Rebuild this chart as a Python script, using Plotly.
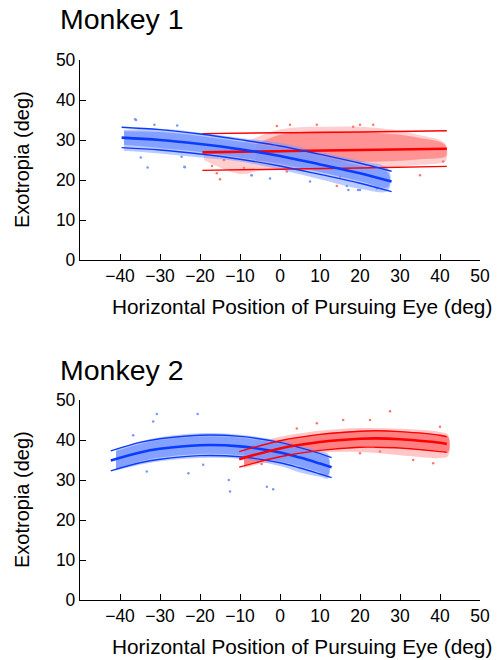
import plotly.graph_objects as go

# ---------------- data ----------------
x_ticks = [-40, -30, -20, -10, 0, 10, 20, 30, 40, 50]
y_ticks = [0, 10, 20, 30, 40, 50]

# Monkey 1 — blue fit and band
m1_blue_fit_x = [-39.6, -30, -20, -10, 0, 10, 20, 27.9]
m1_blue_fit_mean = [30.6, 30.0, 29.0, 27.7, 26.0, 23.9, 21.7, 19.6]
m1_blue_fit_up = [33.2, 32.6, 31.5, 30.1, 28.5, 26.4, 24.2, 22.2]
m1_blue_fit_lo = [28.1, 27.5, 26.5, 25.2, 23.5, 21.4, 19.2, 17.1]
# Monkey 1 — red fit and band
m1_red_fit_x = [-19.4, 0, 20, 41.7]
m1_red_fit_mean = [26.9, 27.2, 27.5, 27.8]
m1_red_fit_up = [31.6, 31.8, 32.0, 32.3]
m1_red_fit_lo = [22.4, 22.7, 23.0, 23.4]

# Monkey 1 — point clouds (outer envelope and dense core)
m1_blue_cloud_x = [-39, -30, -20, -10, 0, 10, 20, 27]
m1_blue_outer_up = [32.5, 32.8, 31.8, 30.5, 29.3, 27.0, 24.8, 22.8]
m1_blue_outer_lo = [27.3, 26.6, 25.6, 24.6, 22.6, 20.2, 17.8, 17.3]
m1_blue_core_up = [32.2, 32.0, 31.0, 29.6, 28.0, 26.0, 23.6, 21.8]
m1_blue_core_lo = [28.8, 28.0, 27.0, 25.6, 24.0, 22.0, 19.7, 18.2]

m1_red_outer_x = [-19, -10, -5, 0, 5, 10, 20, 30, 35, 40, 41.5]
m1_red_outer_up = [27.5, 29.0, 31.0, 32.6, 33.2, 33.3, 33.3, 32.3, 31.2, 30.0, 28.8]
m1_red_outer_lo = [25.0, 21.5, 22.3, 22.5, 22.8, 23.0, 23.2, 23.4, 23.8, 24.2, 24.8]
m1_red_core_x = [-6, 0, 5, 10, 20, 30, 35, 40, 41.5]
m1_red_core_up = [29.0, 31.3, 32.0, 32.2, 32.0, 31.3, 30.5, 29.5, 28.5]
m1_red_core_lo = [24.8, 24.5, 24.5, 24.5, 24.5, 24.8, 25.2, 25.5, 26.0]

m1_blue_pts_x = [-36.2, -31.4, -25.7, -33.1, -34.8, -24.6, -23.8, -36.0, -23.9, -7.1, -2.5, 7.5, 17.1, 19.5, 20.0, 16.7, 24.2]
m1_blue_pts_y = [35.2, 33.8, 33.6, 23.1, 25.6, 25.8, 23.2, 35.0, 23.3, 21.2, 20.4, 19.6, 17.5, 17.5, 17.5, 18.5, 17.9]
m1_red_pts_x = [-15.0, -7.1, 9.2, 20.0, -0.8, 15.0, 1.7, -15.8, 18.3, 23.3, 35.0, 40.8, 14.2, 2.5, -17.0, -12.0, -14.0, -9.0]
m1_red_pts_y = [20.2, 21.2, 33.8, 33.8, 33.5, 20.8, 22.1, 21.7, 33.3, 33.8, 21.2, 24.6, 18.5, 33.8, 23.5, 27.8, 25.0, 23.0]

# Monkey 2 — blue fit and band
m2_blue_fit_x = [-42.3, -35, -30, -20, -10, 0, 5, 10, 12.9]
m2_blue_fit_mean = [34.9, 36.9, 37.8, 38.7, 38.4, 36.9, 35.6, 34.1, 33.2]
m2_blue_fit_up = [37.3, 39.4, 40.3, 41.2, 40.9, 39.4, 38.1, 36.6, 35.6]
m2_blue_fit_lo = [32.3, 34.3, 35.2, 36.1, 35.8, 34.3, 33.0, 31.5, 30.6]
# Monkey 2 — red fit and band
m2_red_fit_x = [-10.2, 0, 10, 20, 24, 30, 40, 41.7]
m2_red_fit_mean = [35.2, 37.9, 39.5, 40.3, 40.4, 40.2, 39.3, 39.0]
m2_red_fit_up = [37.1, 39.8, 41.4, 42.2, 42.3, 42.1, 41.2, 40.8]
m2_red_fit_lo = [33.2, 35.8, 37.4, 38.2, 38.2, 38.0, 37.1, 36.9]

m2_blue_cloud_x = [-41, -35, -30, -20, -10, 0, 5, 10, 12]
m2_blue_outer_up = [37.6, 39.6, 40.7, 41.7, 41.3, 39.8, 38.6, 37.2, 36.5]
m2_blue_outer_lo = [32.4, 33.8, 34.7, 35.5, 35.3, 33.5, 31.9, 30.8, 30.4]
m2_blue_core_up = [37.2, 39.0, 40.0, 40.9, 40.6, 39.0, 37.8, 36.3, 35.6]
m2_blue_core_lo = [32.8, 34.6, 35.6, 36.5, 36.2, 34.6, 33.4, 31.9, 31.2]

m2_red_cloud_x = [-9, -5, 0, 10, 20, 30, 40, 42]
m2_red_outer_up = [38.2, 39.5, 40.8, 42.3, 43.0, 42.8, 42.0, 41.3]
m2_red_outer_lo = [33.0, 34.0, 34.8, 36.8, 37.0, 36.2, 35.5, 36.0]
m2_red_core_up = [37.6, 38.7, 39.9, 41.5, 42.3, 42.2, 41.3, 40.9]
m2_red_core_lo = [33.6, 34.7, 35.9, 37.5, 38.3, 38.2, 37.3, 36.9]

m2_blue_pts_x = [-30.8, -20.6, -31.7, -36.7, -33.3, -22.9, -12.8, -1.7, -19.2, -12.5, -3.3]
m2_blue_pts_y = [46.5, 46.5, 44.6, 41.2, 32.1, 31.7, 30.0, 27.7, 33.8, 27.1, 28.3]
m2_red_pts_x = [27.5, 22.5, 9.2, 40.0, 20.0, 38.3, 33.3, 25.0, 15.8, 4.2, -4.6]
m2_red_pts_y = [47.2, 45.0, 44.2, 43.3, 36.7, 34.2, 35.0, 37.1, 45.0, 42.9, 34.0]

# ---------------- styles ----------------
BLUE_PT = "rgb(120,150,255)"
RED_PT = "rgb(255,115,115)"
BLUE_LN = "rgb(10,60,255)"
RED_LN = "rgb(255,0,0)"
FONT = "Liberation Sans, Arial, sans-serif"

fig = go.Figure()


def band(xs, up, lo, color, opacity, xa, ya):
    fig.add_trace(go.Scatter(
        x=list(xs) + list(xs)[::-1], y=list(up) + list(lo)[::-1],
        fill="toself", fillcolor=color, line=dict(width=0, shape="spline"),
        mode="lines", opacity=opacity, hoverinfo="skip", xaxis=xa, yaxis=ya))


def pts(xs, ys, color, xa, ya):
    fig.add_trace(go.Scatter(x=xs, y=ys, mode="markers",
                             marker=dict(size=2.5, color=color, line=dict(width=0)),
                             xaxis=xa, yaxis=ya, hoverinfo="skip"))


def fit(xs, ys, color, width, xa, ya):
    fig.add_trace(go.Scatter(x=xs, y=ys, mode="lines",
                             line=dict(color=color, width=width, shape="spline"),
                             xaxis=xa, yaxis=ya, hoverinfo="skip"))


# Panel 1 (Monkey 1)
band(m1_red_outer_x, m1_red_outer_up, m1_red_outer_lo, RED_PT, 0.35, "x", "y")
band(m1_red_core_x, m1_red_core_up, m1_red_core_lo, RED_PT, 0.65, "x", "y")
pts(m1_red_pts_x, m1_red_pts_y, RED_PT, "x", "y")
band(m1_blue_cloud_x, m1_blue_outer_up, m1_blue_outer_lo, BLUE_PT, 0.5, "x", "y")
band(m1_blue_cloud_x, m1_blue_core_up, m1_blue_core_lo, BLUE_PT, 0.8, "x", "y")
pts(m1_blue_pts_x, m1_blue_pts_y, BLUE_PT, "x", "y")
for ys, w in [(m1_red_fit_up, 1.4), (m1_red_fit_lo, 1.4), (m1_red_fit_mean, 2.6)]:
    fit(m1_red_fit_x, ys, RED_LN, w, "x", "y")
for ys, w in [(m1_blue_fit_up, 1.4), (m1_blue_fit_lo, 1.4), (m1_blue_fit_mean, 2.6)]:
    fit(m1_blue_fit_x, ys, BLUE_LN, w, "x", "y")

# Panel 2 (Monkey 2)
band(m2_red_cloud_x, m2_red_outer_up, m2_red_outer_lo, RED_PT, 0.4, "x2", "y2")
band(m2_red_cloud_x, m2_red_core_up, m2_red_core_lo, RED_PT, 0.85, "x2", "y2")
pts(m2_red_pts_x, m2_red_pts_y, RED_PT, "x2", "y2")
band(m2_blue_cloud_x, m2_blue_outer_up, m2_blue_outer_lo, BLUE_PT, 0.5, "x2", "y2")
band(m2_blue_cloud_x, m2_blue_core_up, m2_blue_core_lo, BLUE_PT, 0.8, "x2", "y2")
pts(m2_blue_pts_x, m2_blue_pts_y, BLUE_PT, "x2", "y2")
for ys, w in [(m2_blue_fit_up, 1.4), (m2_blue_fit_lo, 1.4), (m2_blue_fit_mean, 2.6)]:
    fit(m2_blue_fit_x, ys, BLUE_LN, w, "x2", "y2")
for ys, w in [(m2_red_fit_up, 1.4), (m2_red_fit_lo, 1.4), (m2_red_fit_mean, 2.6)]:
    fit(m2_red_fit_x, ys, RED_LN, w, "x2", "y2")

W, H = 498, 660
xdom = [80 / W, 480 / W]
axis_common = dict(showline=True, linecolor="black", linewidth=1.3, ticks="inside",
                   ticklen=6, tickwidth=1.2, tickcolor="black", showgrid=False,
                   zeroline=False, tickfont=dict(family=FONT, size=17.5, color="black"))

fig.update_layout(
    width=W, height=H, margin=dict(l=0, r=0, t=0, b=0, autoexpand=False),
    plot_bgcolor="white", paper_bgcolor="white", showlegend=False,
    font=dict(family=FONT, color="black"),
    xaxis=dict(domain=xdom, range=[-50, 50], tickvals=x_ticks, anchor="y", **axis_common),
    yaxis=dict(domain=[1 - 260 / H, 1 - 60 / H], range=[0, 50], tickvals=y_ticks,
               anchor="x", **axis_common),
    xaxis2=dict(domain=xdom, range=[-50, 50], tickvals=x_ticks, anchor="y2", **axis_common),
    yaxis2=dict(domain=[1 - 600 / H, 1 - 400 / H], range=[0, 50], tickvals=y_ticks,
                anchor="x2", **axis_common),
)

ann = []
for title, ty in [("Monkey 1", 19), ("Monkey 2", 370)]:
    ann.append(dict(text=title, x=58 / W, y=1 - ty / H, xref="paper", yref="paper",
                    xanchor="left", yanchor="middle", showarrow=False,
                    font=dict(family=FONT, size=28.5, color="black")))
for ty in [306, 646]:
    ann.append(dict(text="Horizontal Position of Pursuing Eye (deg)", x=302 / W, y=1 - ty / H,
                    xref="paper", yref="paper", xanchor="center", yanchor="middle",
                    showarrow=False, font=dict(family=FONT, size=20.8, color="black")))
for ty in [160, 500]:
    ann.append(dict(text="Exotropia (deg)", x=22 / W, y=1 - ty / H, xref="paper", yref="paper",
                    xanchor="center", yanchor="middle", textangle=-90, showarrow=False,
                    font=dict(family=FONT, size=20, color="black")))
fig.update_layout(annotations=ann)

fig.write_html(
    "out.html",
    post_script="document.body.style.margin='0';document.body.style.overflow='hidden';",
)
